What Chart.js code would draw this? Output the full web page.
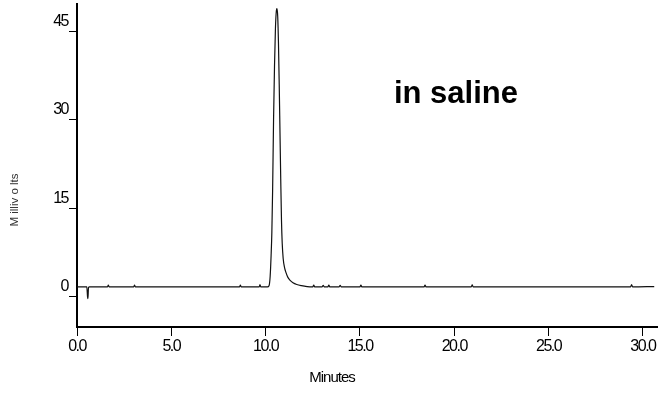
<!DOCTYPE html>
<html>
<head>
<meta charset="utf-8">
<script src="https://cdn.jsdelivr.net/npm/chart.js@4.4.1/dist/chart.umd.min.js"></script>
<style>
  html, body { margin: 0; padding: 0; background: #fff; }
  #wrap { width: 658px; height: 393px; position: relative; }
</style>
</head>
<body>
<div id="wrap"><canvas id="chrom"></canvas></div>
<script>
// Chromatogram trace (minutes vs millivolts)
const timeMin = [
  0, 0.52, 0.56, 0.58, 0.61, 0.66,
  1.62, 1.66, 1.70, 3.01, 3.05, 3.09,
  8.62, 8.66, 8.70, 9.66, 9.70, 9.74,
  10.10, 10.18, 10.24, 10.29, 10.33, 10.37, 10.42, 10.47, 10.52, 10.57, 10.60,
  10.64, 10.68, 10.72, 10.76, 10.80, 10.84, 10.88, 10.93, 11.00, 11.08, 11.18,
  11.30, 11.45, 11.65, 11.90, 12.20,
  12.50, 12.55, 12.60, 13.00, 13.05, 13.10, 13.30, 13.35, 13.40, 13.90, 13.95, 14.00,
  15.00, 15.05, 15.10, 18.40, 18.45, 18.50, 20.90, 20.95, 21.00,
  29.35, 29.40, 29.45, 30.60
];
const milliVolts = [
  1.7, 1.7, 0.0, -0.3, 1.6, 1.7,
  1.7, 2.0, 1.7, 1.7, 2.0, 1.7,
  1.7, 2.0, 1.7, 1.7, 2.1, 1.7,
  1.7, 1.9, 3.5, 7, 11, 18, 30, 39, 45.5, 48.5, 48.8,
  47.5, 43, 36, 28, 20, 13, 9, 6.5, 5.0, 4.1, 3.3,
  2.8, 2.4, 2.1, 1.9, 1.75,
  1.7, 2.0, 1.7, 1.7, 1.95, 1.7, 1.7, 2.0, 1.7, 1.7, 1.95, 1.7,
  1.7, 2.0, 1.7, 1.7, 2.0, 1.7, 1.7, 2.05, 1.7,
  1.7, 2.1, 1.7, 1.75
];
const xTicks = [0, 5, 10, 15, 20, 25, 30];
const yTicks = [0, 15, 30, 45];

const tickFont = { family: "'Liberation Sans', Arial, sans-serif", size: 16 };

// tick labels in the original are condensed, squeeze them with letter spacing
const squeezePlugin = {
  id: 'squeeze',
  beforeLayout(chart) { chart.ctx.letterSpacing = '-1.5px'; },
  beforeDraw(chart) { chart.ctx.letterSpacing = '-1.5px'; }
};

// Axis titles and the annotation are drawn by hand so they can sit off-centre like the original
const textPlugin = {
  id: 'textPlugin',
  afterDraw(chart) {
    const ctx = chart.ctx;
    const xs = chart.scales.x, ys = chart.scales.y;
    ctx.save();
    ctx.fillStyle = '#000';
    ctx.letterSpacing = '-1px';
    ctx.font = "15px 'Liberation Sans', Arial, sans-serif";
    ctx.textAlign = 'center';
    ctx.textBaseline = 'middle';
    ctx.fillText('Minutes', 332, 378);

    ctx.letterSpacing = '0px';
    ctx.translate(15, 200);
    ctx.rotate(-Math.PI / 2);
    ctx.fillStyle = '#333';
    ctx.font = "11.5px 'Liberation Sans', Arial, sans-serif";
    ctx.fillText('M illiv o lts', 0, 0);
    ctx.restore();

    ctx.save();
    ctx.letterSpacing = '0px';
    ctx.fillStyle = '#000';
    ctx.font = "bold 31px 'Liberation Sans', Arial, sans-serif";
    ctx.textAlign = 'left';
    ctx.textBaseline = 'alphabetic';
    ctx.fillText('in saline', xs.getPixelForValue(16.8), ys.getPixelForValue(32.8));
    ctx.restore();
  }
};

new Chart(document.getElementById('chrom'), {
  type: 'line',
  data: {
    datasets: [{
      data: timeMin.map((t, i) => ({ x: t, y: milliVolts[i] })),
      borderColor: '#111',
      borderWidth: 1.2,
      borderJoinStyle: 'round',
      pointRadius: 0,
      cubicInterpolationMode: 'monotone', // also stops the per-pixel fast path from drawing stray verticals
      fill: false
    }]
  },
  options: {
    responsive: true,
    maintainAspectRatio: false,
    animation: false,
    layout: { padding: { top: 4, right: 0, left: 0, bottom: 0 } },
    plugins: { legend: { display: false }, tooltip: { enabled: false } },
    scales: {
      x: {
        type: 'linear',
        min: 0,
        max: 30.8,
        afterBuildTicks: s => { s.ticks = xTicks.map(v => ({ value: v })); },
        afterFit: s => { s.height = 66; s.paddingLeft = 0; s.paddingRight = 0; },
        grid: { drawOnChartArea: false, drawTicks: true, tickLength: 9, color: '#000', lineWidth: 1 },
        border: { display: true, color: '#000', width: 2 },
        ticks: {
          color: '#000',
          font: tickFont,
          padding: 1,
          maxRotation: 0,
          callback: v => v.toFixed(1)
        }
      },
      y: {
        min: -5.1,
        max: 49.6,
        afterBuildTicks: s => { s.ticks = yTicks.map(v => ({ value: v })); },
        afterFit: s => { s.width = 77; s.paddingTop = 0; s.paddingBottom = 0; },
        grid: { drawOnChartArea: false, drawTicks: true, tickLength: 8, color: '#000', lineWidth: 1 },
        border: { display: true, color: '#000', width: 2 },
        ticks: {
          color: '#000',
          font: tickFont,
          padding: 1,
          labelOffset: -10,
          callback: v => String(v)
        }
      }
    }
  },
  plugins: [squeezePlugin, textPlugin]
});
</script>
</body>
</html>
